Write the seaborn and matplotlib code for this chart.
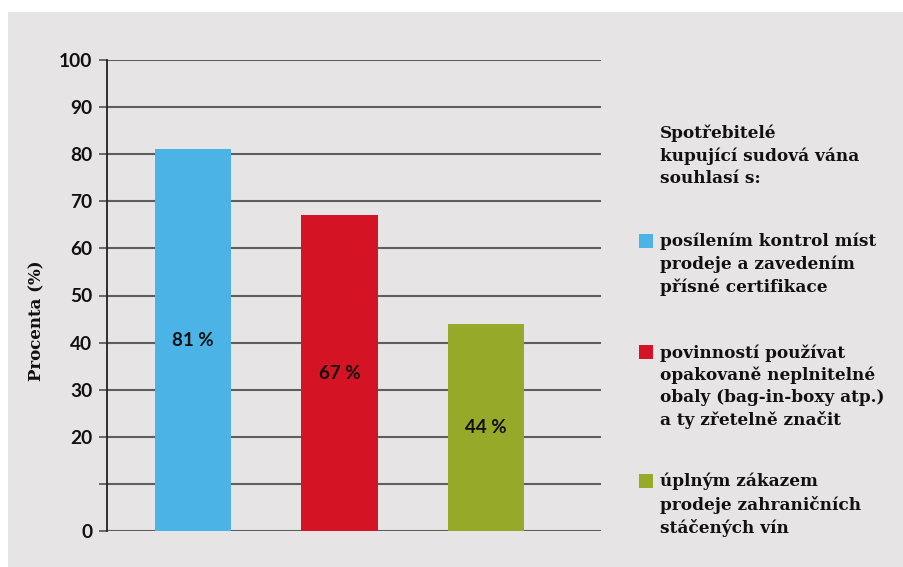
import matplotlib
matplotlib.use("Agg")
import matplotlib.pyplot as plt
from matplotlib.patches import Rectangle
import seaborn as sns
import pandas as pd

# Survey results
categories = [
    "posílením kontrol míst\nprodeje a zavedením\npřísné certifikace",
    "povinností používat\nopakovaně neplnitelné\nobaly (bag-in-boxy atp.)\na ty zřetelně značit",
    "úplným zákazem\nprodeje zahraničních\nstáčených vín",
]
values = [81, 67, 44]
colors = ["#4bb3e6", "#d41324", "#97a928"]
legend_title = "Spotřebitelé\nkupující sudová vána\nsouhlasí s:"
y_ticks = [0, 10, 20, 30, 40, 50, 60, 70, 80, 90, 100]
y_tick_labels = ["0", "", "20", "30", "40", "50", "60", "70", "80", "90", "100"]
y_label = "Procenta (%)"

df = pd.DataFrame({"kategorie": categories, "procenta": values})

sns.set_theme(style="white")
bg = "#e6e4e5"
grid_col = "#5e5e5e"
ink = "#111111"
sans = ["Lato", "DejaVu Sans"]
serif = ["DejaVu Serif"]
W, H = 904, 567

fig = plt.figure(figsize=(9.04, 5.67), dpi=100)
fig.patch.set_facecolor("white")
fig.add_artist(Rectangle((8 / W, 0), 1, 1 - 12 / H, transform=fig.transFigure,
                         facecolor=bg, edgecolor="none", zorder=-10))

ax = fig.add_axes([107 / W, 36 / H, 494 / W, 471 / H])
ax.set_facecolor("none")

sns.barplot(data=df, x="kategorie", y="procenta", hue="kategorie",
            palette=colors, width=0.52, dodge=False, legend=False,
            saturation=1, linewidth=0, edgecolor="none", ax=ax, zorder=3)

ax.set_xlim(-0.587, 2.785)
ax.set_ylim(0, 100)
ax.set_yticks(y_ticks)
ax.set_yticklabels(y_tick_labels, fontfamily=sans, fontweight="bold", fontsize=13.8,
                   color=ink)
ax.set_xticks([])
ax.set_xlabel("")
ax.set_ylabel("")

for y in y_ticks:
    ax.axhline(y, color=grid_col, lw=1.5, zorder=1)
ax.tick_params(axis="y", direction="out", length=5.5, width=1.3, color=grid_col,
               pad=5, left=True)

for side in ["top", "right", "bottom"]:
    ax.spines[side].set_visible(False)
ax.spines["left"].set_color("#222222")
ax.spines["left"].set_linewidth(1.3)
ax.spines["left"].set_zorder(4)

# y-axis title
fig.text(37 / W, 1 - 321 / H, y_label, rotation=90, ha="center", va="center",
         fontfamily=serif, fontweight="bold", fontsize=12, color=ink)

# value labels at the middle of each bar
for i, v in enumerate(values):
    ax.text(i, v / 2, f"{v} %", ha="center", va="center", fontfamily=sans,
            fontweight="bold", fontsize=13.5, color=ink, zorder=5)

# legend block on the right
fs = 12.2
ls = 1.38
fig.text(660 / W, 1 - 125 / H, legend_title, ha="left", va="top", fontfamily=serif,
         fontweight="bold", fontsize=fs, color=ink, linespacing=ls)
tops = [233, 344, 473]
for top, label, c in zip(tops, categories, colors):
    fig.text(660 / W, 1 - top / H, label, ha="left", va="top", fontfamily=serif,
             fontweight="bold", fontsize=fs, color=ink, linespacing=ls)
    fig.add_artist(Rectangle((639 / W, 1 - (top + 15) / H), 14 / W, 14 / H,
                             transform=fig.transFigure, facecolor=c, edgecolor="none"))

fig.savefig("out.png", dpi=100, facecolor="white")
